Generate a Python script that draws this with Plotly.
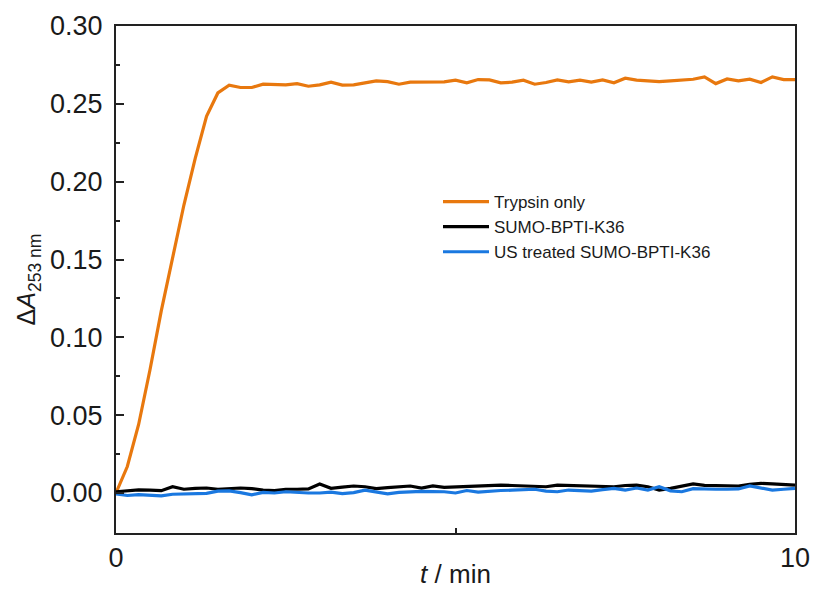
import plotly.graph_objects as go

time_min = [k / 6 for k in range(61)]

trypsin_only = [
    0.0, 0.017, 0.044, 0.079, 0.117, 0.152, 0.185, 0.215, 0.242, 0.257,
    0.262, 0.2605, 0.2605, 0.2626, 0.2624, 0.2622, 0.263, 0.2613, 0.2622, 0.2639,
    0.262, 0.2622, 0.2635, 0.2647, 0.2643, 0.2626, 0.2639, 0.2641, 0.2643, 0.2641,
    0.2652, 0.2635, 0.2656, 0.2654, 0.2635, 0.2639, 0.2652, 0.2626, 0.2637, 0.2654,
    0.2641, 0.2652, 0.2639, 0.2654, 0.2635, 0.2665, 0.2652, 0.2645, 0.2643, 0.2647,
    0.265, 0.2658, 0.2673, 0.263, 0.266, 0.2647, 0.2658, 0.2637, 0.2673, 0.2656,
    0.2656,
]

sumo_bpti = [
    0.0008, 0.0015, 0.002, 0.0018, 0.0015, 0.004, 0.0024, 0.003, 0.0032, 0.0024,
    0.003, 0.0032, 0.0028, 0.0018, 0.0015, 0.0024, 0.0024, 0.0026, 0.0058, 0.003,
    0.0038, 0.0045, 0.004, 0.0028, 0.0034, 0.004, 0.0045, 0.0032, 0.0045, 0.0036,
    0.004, 0.0042, 0.0045, 0.0048, 0.0051, 0.0048, 0.0045, 0.0042, 0.004, 0.0051,
    0.0049, 0.0048, 0.0049, 0.0045, 0.004, 0.0048, 0.0051, 0.004, 0.0019, 0.003,
    0.0045, 0.0058, 0.0049, 0.0047, 0.0045, 0.0045, 0.0055, 0.0062, 0.0058, 0.0055,
    0.0051,
]

us_treated = [
    -0.0006, -0.0016, -0.001, -0.0014, -0.0019, -0.0008, -0.0006, -0.0006, -0.0002, 0.0012,
    0.0014, 0.0002, -0.0012, 0.0004, 0.0, 0.0008, 0.0002, 0.0, 0.0, 0.0006,
    -0.0004, 0.0002, 0.0018, 0.0006, -0.0006, 0.0004, 0.0008, 0.001, 0.0009, 0.0008,
    0.0, 0.0016, 0.0006, 0.0012, 0.0016, 0.0018, 0.0022, 0.0024, 0.0012, 0.0008,
    0.0019, 0.0014, 0.0012, 0.0022, 0.003, 0.0018, 0.0032, 0.0019, 0.004, 0.0014,
    0.0008, 0.0028, 0.0024, 0.0024, 0.0024, 0.0026, 0.0045, 0.0032, 0.0019, 0.0024,
    0.003,
]

series_names = ["Trypsin only", "SUMO-BPTI-K36", "US treated SUMO-BPTI-K36"]
series_colors = ["#E8780E", "#000000", "#1A78E0"]

x_tickvals = [0, 10]
x_ticktext = ["0", "10"]
x_minor_vals = [5]
y_tickvals = [0.0, 0.05, 0.10, 0.15, 0.20, 0.25, 0.30]
y_ticktext = ["0.00", "0.05", "0.10", "0.15", "0.20", "0.25", "0.30"]
y_minor_vals = [0.025, 0.075, 0.125, 0.175, 0.225, 0.275]

fig = go.Figure()
for name, ys, col in zip(series_names, [trypsin_only, sumo_bpti, us_treated], series_colors):
    fig.add_trace(go.Scatter(x=time_min, y=ys, mode="lines", name=name,
                             line=dict(color=col, width=3.2)))

font_family = "Liberation Sans, Arial, sans-serif"
txt = "#1a1a1a"
fig.update_layout(
    width=814, height=589,
    margin=dict(l=116, r=19, t=26, b=56),
    paper_bgcolor="white", plot_bgcolor="white",
    font=dict(family=font_family, color=txt, size=26),
    legend=dict(x=(438 - 116) / 679, y=(533 - 184) / 507, xanchor="left", yanchor="top",
                bgcolor="rgba(0,0,0,0)", font=dict(size=17, color=txt),
                tracegroupgap=0, itemwidth=46),
    showlegend=True,
)
fig.update_xaxes(
    range=[0, 10], tickvals=x_tickvals, ticktext=x_ticktext,
    ticks="inside", ticklen=4, tickwidth=1.5, tickcolor="#222",
    minor=dict(tickvals=x_minor_vals, ticks="inside", ticklen=5, tickwidth=1.5, tickcolor="#222"),
    showline=True, linecolor="#222", linewidth=2, mirror=True,
    showgrid=False, zeroline=False, automargin=False,
    tickfont=dict(size=27, color=txt), ticklabelstandoff=0,
    title=dict(text="<i>t</i> / min", font=dict(size=26, color=txt), standoff=0),
)
fig.update_yaxes(
    range=[-0.0257, 0.30], tickvals=y_tickvals, ticktext=y_ticktext,
    ticks="inside", ticklen=8, tickwidth=1.5, tickcolor="#222",
    minor=dict(tickvals=y_minor_vals,
               ticks="inside", ticklen=4, tickwidth=1.5, tickcolor="#222"),
    showline=True, linecolor="#222", linewidth=2, mirror=True,
    showgrid=False, zeroline=False, automargin=False,
    tickfont=dict(size=27, color=txt), ticklabelstandoff=6,
    title=dict(text="Δ<i>A</i><sub>253 nm</sub>", font=dict(size=25, color=txt), standoff=7),
)

fig.write_html(
    "out.html",
    config={"displayModeBar": False},
    post_script="document.body.style.margin='0';document.body.style.overflow='hidden';",
)
